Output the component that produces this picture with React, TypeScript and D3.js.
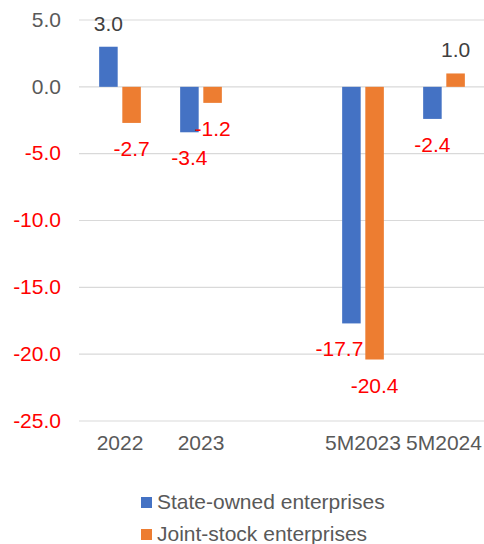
import React from "react";
import * as d3 from "d3";

const categories = ["2022", "2023", "", "5M2023", "5M2024"];
const seriesNames = ["State-owned enterprises", "Joint-stock enterprises"];
const stateOwned: (number | null)[] = [3.0, -3.4, null, -17.7, -2.4];
const jointStock: (number | null)[] = [-2.7, -1.2, null, -20.4, 1.0];
const yTicks = [5, 0, -5, -10, -15, -20, -25];
const colors = ["#4472C4", "#ED7D31"];
// label nudges (px) for labels that the original chart moved to avoid overlap
const labelShift: Record<string, number> = { "3-0": -12 };

const W = 484;
const H = 544;
const FONT = "'Liberation Sans', Arial, sans-serif";

const fmt = (v: number) => v.toFixed(1);

export default function App() {
  const x = d3.scaleBand<string>().domain(categories.map((c, i) => String(i))).range([79.5, 484.5]).padding(0);
  const y = d3.scaleLinear().domain([-25, 5]).range([421, 20]);
  const group = 41.7;
  const x1 = d3.scaleBand<string>().domain(["0", "1"]).range([0, group]).paddingInner(0.2);
  const series = [stateOwned, jointStock];

  return (
    <div style={{ position: "absolute", left: 0, top: 0 }}>
      <svg width={W} height={H} style={{ display: "block" }} fontFamily={FONT}>
        <rect width={W} height={H} fill="#fff" />
        {yTicks.map((t) => (
          <g key={t}>
            <line x1={79} x2={484} y1={y(t)} y2={y(t)} stroke="#D9D9D9" strokeWidth={1.2} />
            <text x={61} y={y(t) + 6.7} textAnchor="end" fontSize={21} fill={t < 0 ? "#FF0000" : "#595959"}>
              {fmt(t)}
            </text>
          </g>
        ))}
        {categories.map((c, i) => {
          const cx = (x(String(i)) as number) + x.bandwidth() / 2;
          return (
            <g key={i}>
              {series.map((s, si) => {
                const v = s[i];
                if (v === null) return null;
                const bx = cx - group / 2 + (x1(String(si)) as number);
                const bw = x1.bandwidth();
                const y0 = y(0);
                const yv = y(v);
                const ly = v >= 0 ? yv - 16 : yv + 33;
                const shift = labelShift[`${i}-${si}`] || 0;
                return (
                  <g key={si}>
                    <rect x={bx} y={Math.min(y0, yv)} width={bw} height={Math.abs(yv - y0)} fill={colors[si]} />
                    <text
                      x={bx + bw / 2 + shift}
                      y={ly}
                      textAnchor="middle"
                      fontSize={21}
                      fill={v < 0 ? "#FF0000" : "#404040"}
                    >
                      {fmt(v)}
                    </text>
                  </g>
                );
              })}
              <text x={cx} y={450} textAnchor="middle" fontSize={21} fill="#595959">
                {c}
              </text>
            </g>
          );
        })}
        {seriesNames.map((n, i) => (
          <g key={n} transform={`translate(141, ${497 + i * 32})`}>
            <rect width={11} height={11} fill={colors[i]} />
            <text x={16} y={12} fontSize={21} fill="#595959">
              {n}
            </text>
          </g>
        ))}
      </svg>
    </div>
  );
}
